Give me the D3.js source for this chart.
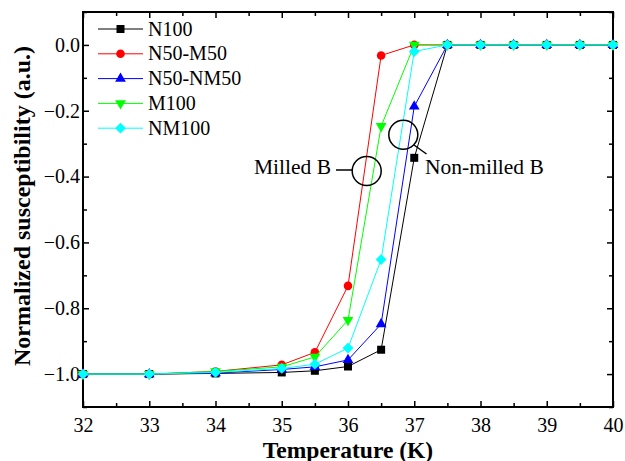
<!DOCTYPE HTML>
<html lang="en">
<head>
  <meta charset="utf-8">
  <title>Susceptibility</title>
  <script src="https://d3js.org/d3.v7.min.js"></script>
  <style>
    body { margin: 0; background: #fff; }
    text { font-family: "Liberation Serif", "Times New Roman", serif; }
  </style>
</head>
<body>
  <div id="stage"></div>
  <script>
    // data
    var temps = [32, 33, 34, 35, 35.5, 36, 36.5, 37, 37.5, 38, 38.5, 39, 39.5, 40];
    var n100    = [-1.0, -1.0, -0.998, -0.995, -0.99, -0.977, -0.926, -0.343, 0, 0, 0, 0, 0, 0];
    var n50m50  = [-1.0, -1.0, -0.992, -0.972, -0.934, -0.732, -0.032, 0, 0, 0, 0, 0, 0, 0];
    var n50nm50 = [-1.0, -1.0, -0.997, -0.986, -0.978, -0.957, -0.848, -0.187, 0, 0, 0, 0, 0, 0];
    var m100    = [-1.0, -1.0, -0.992, -0.978, -0.948, -0.836, -0.247, 0, 0, 0, 0, 0, 0, 0];
    var nm100   = [-1.0, -1.0, -0.995, -0.983, -0.97, -0.921, -0.652, -0.02, 0, 0, 0, 0, 0, 0];

    var seriesNames = ["N100", "N50-M50", "N50-NM50", "M100", "NM100"];
    var seriesColors = ["#000000", "#ff0000", "#0000ff", "#00ff00", "#00ffff"];
    var seriesValues = [n100, n50m50, n50nm50, m100, nm100];

    var xTicks = [32, 33, 34, 35, 36, 37, 38, 39, 40];
    var yTicks = [0.0, -0.2, -0.4, -0.6, -0.8, -1.0];

    (function () {
      var W = 625, H = 461;
      var mLeft = 83, mRight = 613, mTop = 12, mBottom = 407;
      var serif = "Liberation Serif";

      var svg = d3.select("#stage").append("svg").attr("width", W).attr("height", H);

      var x = d3.scaleLinear().domain([32, 40]).range([mLeft, mRight]);
      var y = d3.scaleLinear().domain([-1.1, 0.1]).range([mBottom, mTop]);

      var xMinor = d3.range(32.5, 40, 1);
      var yMinor = [-1.1, -0.9, -0.7, -0.5, -0.3, -0.1, 0.1];

      // ticks pointing inward on all four sides
      function tickAxis(axis, pos, vert, values, len, labels, fmt, pad) {
        var a = axis.tickValues(values).tickSizeInner(-len).tickSizeOuter(0);
        if (labels) a.tickFormat(fmt).tickPadding(pad); else a.tickFormat("");
        var g = svg.append("g")
          .attr("transform", vert ? "translate(" + pos + ",0)" : "translate(0," + pos + ")")
          .attr("font-family", serif)
          .call(a);
        g.select(".domain").remove();
        g.selectAll("line").attr("stroke-width", 1.5);
        g.selectAll("text").attr("font-size", 20).attr("fill", "#000").attr("font-family", serif);
        return g;
      }

      tickAxis(d3.axisBottom(x), mBottom, false, xTicks, 6, true, d3.format("d"), 11);
      tickAxis(d3.axisBottom(x), mBottom, false, xMinor, 4, false);
      tickAxis(d3.axisTop(x), mTop, false, xTicks, 6, false);
      tickAxis(d3.axisTop(x), mTop, false, xMinor, 4, false);
      tickAxis(d3.axisLeft(y), mLeft, true, yTicks, 6, true, d3.format(".1f"), 3);
      tickAxis(d3.axisLeft(y), mLeft, true, yMinor, 4, false);
      tickAxis(d3.axisRight(y), mRight, true, yTicks, 6, false);
      tickAxis(d3.axisRight(y), mRight, true, yMinor, 4, false);

      // frame
      svg.append("rect").attr("x", mLeft).attr("y", mTop)
        .attr("width", mRight - mLeft).attr("height", mBottom - mTop)
        .attr("fill", "none").attr("stroke", "#000").attr("stroke-width", 2);

      // axis titles
      svg.append("text").attr("x", 348).attr("y", 458)
        .attr("text-anchor", "middle").attr("font-size", 23.5).attr("font-weight", "bold")
        .text("Temperature (K)");
      svg.append("text").attr("transform", "translate(30,206) rotate(-90)")
        .attr("text-anchor", "middle").attr("font-size", 24).attr("font-weight", "bold")
        .text("Normalized susceptibility (a.u.)");

      // markers
      var symbols = [d3.symbolSquare, d3.symbolCircle, d3.symbolTriangle, d3.symbolTriangle, d3.symbolSquare];
      var sizes = [64, 58, 50, 50, 58];
      var rotations = [0, 0, 0, 180, 45];

      function marker(g, i, cx, cy) {
        g.append("path")
          .attr("d", d3.symbol().type(symbols[i]).size(sizes[i])())
          .attr("transform", "translate(" + cx + "," + cy + ") rotate(" + rotations[i] + ")")
          .attr("fill", seriesColors[i]);
      }

      var line = d3.line().x(function (d) { return x(d[0]); }).y(function (d) { return y(d[1]); });

      seriesValues.forEach(function (vals, i) {
        var pts = temps.map(function (t, k) { return [t, vals[k]]; });
        var g = svg.append("g");
        g.append("path").attr("d", line(pts)).attr("fill", "none")
          .attr("stroke", seriesColors[i]).attr("stroke-width", 1);
        pts.forEach(function (p) { marker(g, i, x(p[0]), y(p[1])); });
      });

      // legend
      var lg = svg.append("g");
      seriesNames.forEach(function (name, i) {
        var ly = 29 + i * 24.8;
        lg.append("line").attr("x1", 98).attr("x2", 143).attr("y1", ly).attr("y2", ly)
          .attr("stroke", seriesColors[i]).attr("stroke-width", 1);
        marker(lg, i, 120.5, ly);
        lg.append("text").attr("x", 148).attr("y", ly + 6.5).attr("font-size", 20).text(name);
      });

      // annotations
      svg.append("text").attr("x", 331).attr("y", 173.5).attr("text-anchor", "end").attr("font-size", 21.5).text("Milled B");
      svg.append("line").attr("x1", 336).attr("x2", 352).attr("y1", 170).attr("y2", 170)
        .attr("stroke", "#000").attr("stroke-width", 1.5);
      svg.append("circle").attr("cx", 366.7).attr("cy", 171).attr("r", 14.5)
        .attr("fill", "none").attr("stroke", "#000").attr("stroke-width", 1.5);

      svg.append("circle").attr("cx", 403.3).attr("cy", 134.7).attr("r", 14.5)
        .attr("fill", "none").attr("stroke", "#000").attr("stroke-width", 1.5);
      svg.append("line").attr("x1", 414).attr("y1", 145).attr("x2", 426.5).attr("y2", 154)
        .attr("stroke", "#000").attr("stroke-width", 1.5);
      svg.append("text").attr("x", 425).attr("y", 173.5).attr("font-size", 21.5).text("Non-milled B");
    })();
  </script>
</body>
</html>
